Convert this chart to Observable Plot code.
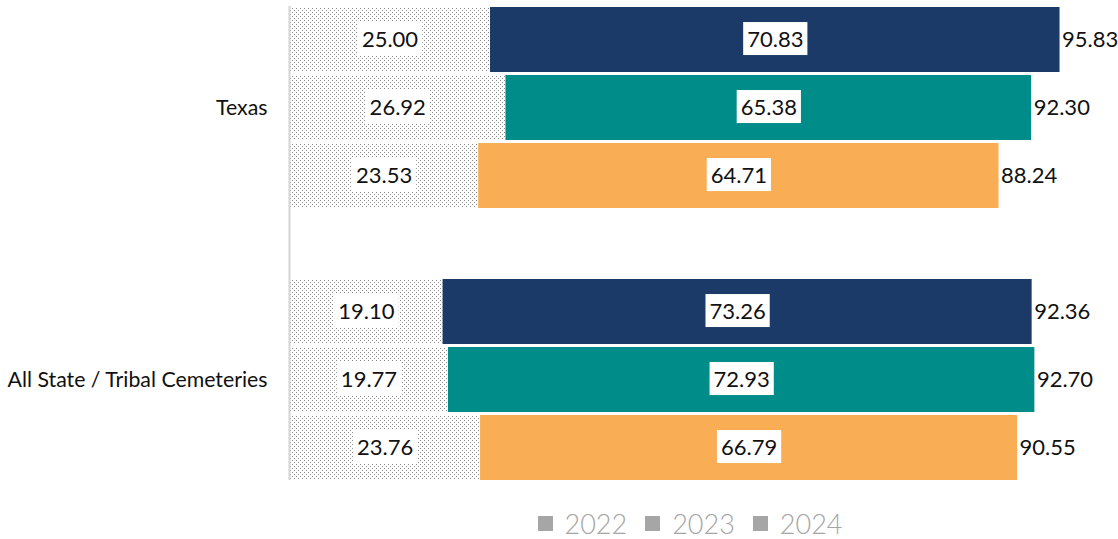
<!DOCTYPE html>
<html><head><meta charset="utf-8">
<script src="https://cdn.jsdelivr.net/npm/d3@7"></script>
<script src="https://cdn.jsdelivr.net/npm/@observablehq/plot@0.6"></script>
<style>
body{margin:0;background:#fff;font-family:Lato,"Open Sans",sans-serif;}
#legend{display:flex;justify-content:center;align-items:center;margin-left:262px;margin-top:15px;gap:18px;color:#a6a6a6;font-size:27px;font-weight:300;}
#legend .it{display:flex;align-items:center;gap:12px;}
#legend .sw{width:15px;height:15px;background:#a6a6a6;}
</style>
</head><body><div id="chart"></div><div id="legend"></div>
<script>
const groups = ["Texas", "All State / Tribal Cemeteries"];
const years = ["2022", "2023", "2024"];
const texasBase = [25.00, 26.92, 23.53];
const texasMain = [70.83, 65.38, 64.71];
const texasTotal = [95.83, 92.30, 88.24];
const allBase = [19.10, 19.77, 23.76];
const allMain = [73.26, 72.93, 66.79];
const allTotal = [92.36, 92.70, 90.55];
const yearColors = ["#1b3a67", "#008c89", "#f9ae56"];
const legendColor = "#a6a6a6";

const rows = [];
[[groups[0], texasBase, texasMain, texasTotal], [groups[1], allBase, allMain, allTotal]].forEach(([g, b, m, t]) => {
  years.forEach((yr, i) => rows.push({group: g, year: yr, key: g + "|" + yr, base: b[i], main: m[i], total: t[i], color: yearColors[i]}));
});
const yDomain = [...years.map(y => groups[0] + "|" + y), "spacer", ...years.map(y => groups[1] + "|" + y)];
const fmt = d3.format(".2f");

const chart = Plot.plot({
  width: 1118, height: 492,
  marginLeft: 289, marginRight: 0, marginTop: 6, marginBottom: 12,
  style: {fontFamily: "Lato, 'Open Sans', sans-serif", background: "#fff"},
  x: {domain: [0, 103.1], axis: null},
  y: {domain: yDomain, axis: null, paddingInner: 0.047, paddingOuter: 0},
  marks: [
    Plot.barX(rows, {y: "key", x1: 0, x2: "base", fill: "url(#dots)", inset: 0}),
    Plot.barX(rows, {y: "key", x1: "base", x2: "total", fill: "color", inset: 0}),
    Plot.ruleX([0], {stroke: "#d4d4d4", strokeWidth: 2}),
    Plot.text(rows, {y: "key", x: d => d.base / 2, text: d => fmt(d.base), fontSize: 22, fill: "#111", className: "boxed"}),
    Plot.text(rows, {y: "key", x: d => (d.base + d.total) / 2, text: d => fmt(d.main), fontSize: 22, fill: "#111", className: "boxed"}),
    Plot.text(rows, {y: "key", x: "total", text: d => fmt(d.total), dx: 2, textAnchor: "start", fontSize: 22, fill: "#111"}),
    Plot.text(groups, {x: 0, y: g => g + "|2023", text: g => g, dx: -22, textAnchor: "end", fontSize: 21.3, fill: "#111"})
  ]
});

const ns = "http://www.w3.org/2000/svg";
const defs = document.createElementNS(ns, "defs");
defs.innerHTML = '<pattern id="dots" width="4" height="4" patternUnits="userSpaceOnUse"><rect width="4" height="4" fill="#fff"/><rect x="0" y="0" width="1" height="1" fill="#8a8a8a"/><rect x="2" y="2" width="1" height="1" fill="#8a8a8a"/></pattern>';
chart.insertBefore(defs, chart.firstChild);
document.getElementById("chart").appendChild(chart);

chart.querySelectorAll("g.boxed text").forEach(t => {
  const bb = t.getBBox();
  const r = document.createElementNS(ns, "rect");
  r.setAttribute("x", bb.x - 4);
  r.setAttribute("y", bb.y - 3);
  r.setAttribute("width", bb.width + 8);
  r.setAttribute("height", bb.height + 6);
  r.setAttribute("fill", "#fff");
  const tr = t.getAttribute("transform");
  if (tr) r.setAttribute("transform", tr);
  t.parentNode.insertBefore(r, t);
});

const legend = document.getElementById("legend");
years.forEach(y => {
  const it = document.createElement("div");
  it.className = "it";
  it.innerHTML = '<span class="sw"></span><span>' + y + '</span>';
  legend.appendChild(it);
});
</script>
</body></html>
